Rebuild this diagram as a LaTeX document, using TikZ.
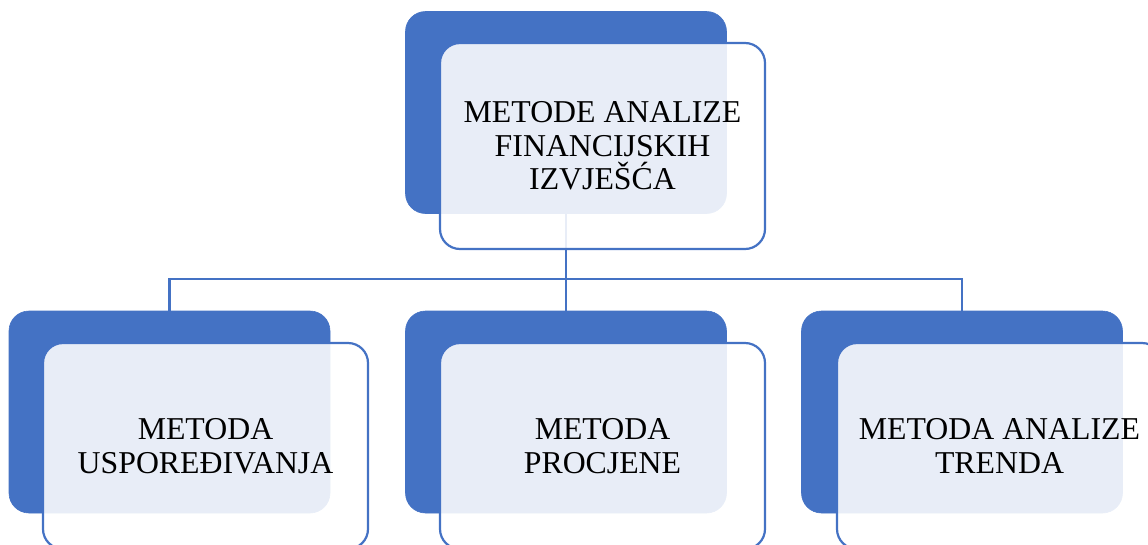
\documentclass[tikz,border=0pt]{standalone}
\usepackage{fontspec}
\setmainfont{Liberation Serif}
\definecolor{accent}{HTML}{4472C4}
\tikzset{
  back/.style={rectangle, rounded corners=20pt, fill=accent, draw=accent, line width=0.6pt,
    minimum width=321pt, minimum height=202pt, inner sep=0pt},
  front/.style={rectangle, rounded corners=20pt, draw=accent, line width=2.2pt, fill=white,
    fill opacity=0.88, text opacity=1, minimum width=325pt, minimum height=206pt,
    inner sep=0pt, align=center, font=\fontsize{31.8pt}{33.5pt}\selectfont},
  link/.style={draw=accent, line width=2.2pt}
}
\begin{document}
\begin{tikzpicture}[x=1pt,y=-1pt]
\useasboundingbox (0,0) rectangle (1148,544);
\clip (0,0) rectangle (1148,544);
% back boxes
\node[back] (tb) at (566,112.5) {};
\node[back] (lb) at (169.5,412) {};
\node[back] (mb) at (566,412) {};
\node[back] (rb) at (962,412) {};
% connectors
\coordinate (j) at (566,279);
\draw[link] (tb.south) -- (j);
\draw[link] (j) -| (lb.north);
\draw[link] (j) -- (mb.north);
\draw[link] (j) -| (rb.north);
% front boxes
\node[front] (tf) at (602.5,146) {METODE ANALIZE\\FINANCIJSKIH\\IZVJEŠĆA};
\node[front] (lf) at (205.5,446) {METODA\\USPOREĐIVANJA};
\node[front] (mf) at (602.5,446) {METODA\\PROCJENE};
\node[front] (rf) at (999.5,446) {METODA ANALIZE\\TRENDA};
\end{tikzpicture}
\end{document}
